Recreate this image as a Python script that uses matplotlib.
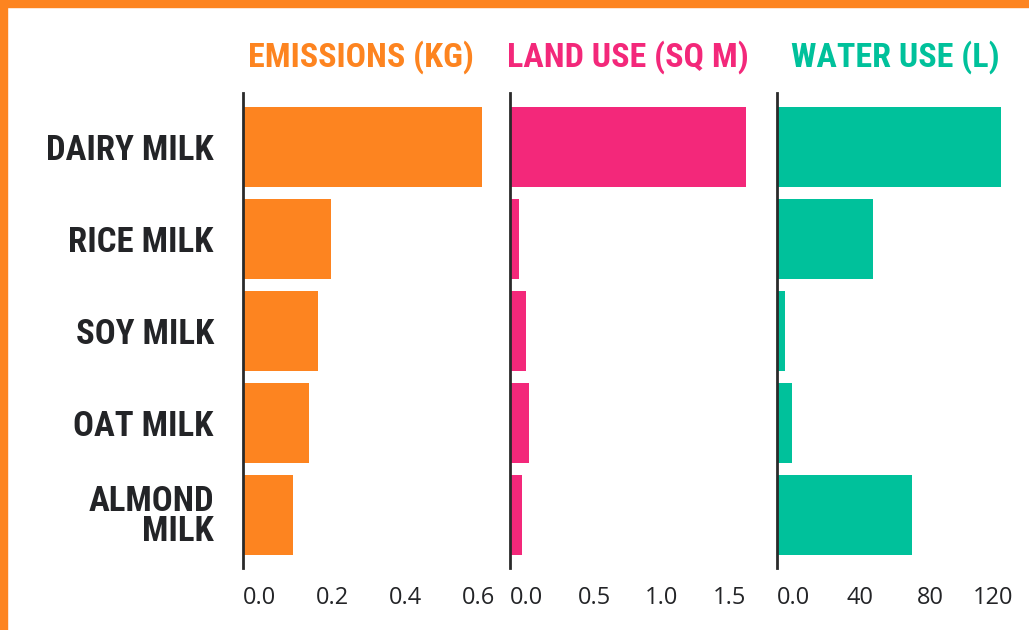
import matplotlib
matplotlib.use("Agg")
import matplotlib.pyplot as plt
from matplotlib import font_manager as fm
from matplotlib.transforms import ScaledTranslation

# Data (per 200ml glass)
milks = ["DAIRY MILK", "RICE MILK", "SOY MILK", "OAT MILK", "ALMOND\nMILK"]
emissions = [0.655, 0.24, 0.205, 0.18, 0.137]
land_use = [1.75, 0.067, 0.12, 0.14, 0.09]
water_use = [128, 55, 4.6, 8.6, 77]

titles = ["EMISSIONS (KG)", "LAND USE (SQ M)", "WATER USE (L)"]
colors = ["#FD8420", "#F3287A", "#00C19B"]
xmax = [0.647, 1.748, 134.9]
ticks = [[0, 0.2, 0.4, 0.6], [0, 0.5, 1.0, 1.5], [0, 40, 80, 120]]
tick_labels = [["0.0", "0.2", "0.4", "0.6"], ["0.0", "0.5", "1.0", "1.5"],
               ["0.0", "40", "80", "120"]]


def pick(names):
    for n in names:
        try:
            fm.findfont(fm.FontProperties(family=n), fallback_to_default=False)
            return n
        except ValueError:
            pass
    return "DejaVu Sans"


bold_font = pick(["Liberation Sans Narrow", "Roboto Condensed", "Open Sans Condensed", "Liberation Sans"])
tick_font = pick(["Open Sans", "Lato", "DejaVu Sans"])
text_color = "#232427"

W, H = 1029, 630
fig = plt.figure(figsize=(W / 100, H / 100), dpi=100)
fig.patch.set_facecolor("white")

# orange frame (left and top edges)
fig.patches.append(plt.Rectangle((0, 0), 7 / W, 1, transform=fig.transFigure,
                                 color=colors[0], zorder=0))
fig.patches.append(plt.Rectangle((0, 1 - 7 / H), 1, 7 / H, transform=fig.transFigure,
                                 color=colors[0], zorder=0))

lefts = [243, 510, 777]
ax_w, top, bottom = 236, 93, 568
series = [emissions, land_use, water_use]
ypos = list(range(len(milks)))
bar_h = 80 / 92
span = (bottom - top) / 92

for i, ax_left in enumerate(lefts):
    ax = fig.add_axes([ax_left / W, (H - bottom) / H, ax_w / W, (bottom - top) / H])
    ax.barh(ypos, series[i], height=bar_h, color=colors[i], clip_on=False, zorder=1)
    ax.set_xlim(0, xmax[i])
    ax.set_ylim(2 + span / 2, 2 - span / 2)
    for s in ["top", "right", "bottom"]:
        ax.spines[s].set_visible(False)
    ax.spines["left"].set_color("#2A2A2A")
    ax.spines["left"].set_linewidth(2)
    ax.spines["left"].set_zorder(3)
    ax.set_xticks(ticks[i])
    ax.set_xticklabels(tick_labels[i], fontfamily=tick_font, fontsize=17, color=text_color)
    ax.tick_params(axis="x", length=0, pad=13)
    for lbl in ax.get_xticklabels():
        lbl.set_horizontalalignment("left")
    if i == 2:
        last = ax.get_xticklabels()[-1]
        last.set_transform(last.get_transform() + ScaledTranslation(-14 / 100, 0, fig.dpi_scale_trans))
    if i == 0:
        ax.set_yticks(ypos)
        ax.set_yticklabels(milks, fontfamily=bold_font, fontweight="bold", fontsize=25,
                           color=text_color, linespacing=0.9)
        ax.tick_params(axis="y", length=0, pad=21)
    else:
        ax.set_yticks([])
    ax.text(0.5, 1 + 26 / (bottom - top), titles[i], transform=ax.transAxes,
            ha="center", va="baseline", fontfamily=bold_font, fontweight="bold",
            fontsize=24.5, color=colors[i])
    ax.set_facecolor("none")

fig.savefig("out.png", dpi=100, facecolor="white")
